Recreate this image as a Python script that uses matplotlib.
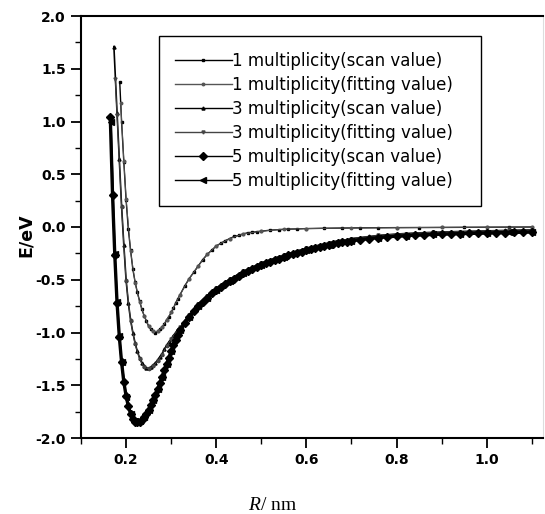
import matplotlib
matplotlib.use("Agg")
import matplotlib.pyplot as plt
from matplotlib.ticker import MultipleLocator, FormatStrFormatter

plt.rcParams['font.family'] = ['DejaVu Sans']
plt.rcParams['axes.unicode_minus'] = False
plt.rcParams['mathtext.fontset'] = 'custom'
plt.rcParams['mathtext.it'] = 'Liberation Serif:italic'
plt.rcParams['mathtext.rm'] = 'Liberation Serif'

# ---- data (R in nm, E in eV) ----
# multiplicity 1, scan
r1 = [0.186, 0.190, 0.195, 0.200, 0.205, 0.210, 0.215, 0.220, 0.225, 0.230,
      0.235, 0.240, 0.245, 0.250, 0.255, 0.260, 0.265, 0.270, 0.275, 0.280,
      0.285, 0.290, 0.295, 0.300, 0.305, 0.310, 0.315, 0.320,
      0.33, 0.34, 0.35, 0.36, 0.37, 0.38, 0.39, 0.40, 0.41, 0.42, 0.43, 0.44,
      0.45, 0.46, 0.47, 0.48, 0.49, 0.50,
      0.52, 0.54, 0.56, 0.58, 0.60,
      0.64, 0.68, 0.72, 0.76, 0.80,
      0.85, 0.90, 0.95, 1.00, 1.05, 1.10]
e1 = [1.37, 1.00, 0.62, 0.26, -0.02, -0.22, -0.40, -0.52, -0.62, -0.70,
      -0.78, -0.84, -0.89, -0.94, -0.97, -0.99, -1.00, -0.99, -0.97, -0.95,
      -0.92, -0.88, -0.85, -0.81, -0.77, -0.72, -0.68, -0.64,
      -0.56, -0.49, -0.43, -0.37, -0.31, -0.26, -0.22, -0.18, -0.155, -0.13, -0.11, -0.09,
      -0.08, -0.065, -0.055, -0.05, -0.045, -0.04,
      -0.03, -0.025, -0.02, -0.018, -0.015,
      -0.012, -0.01, -0.008, -0.007, -0.006,
      -0.005, -0.004, -0.003, -0.002, -0.001, 0.0]

# multiplicity 1, fitting
r1f = [0.188, 0.195, 0.20, 0.21, 0.22, 0.23, 0.24, 0.25, 0.26, 0.27, 0.28,
       0.29, 0.30, 0.32, 0.34, 0.36, 0.38, 0.40, 0.43, 0.46, 0.50, 0.55,
       0.60, 0.70, 0.80, 0.90, 1.00, 1.10]
e1f = [1.18, 0.63, 0.27, -0.23, -0.53, -0.71, -0.84, -0.94, -0.99, -0.99, -0.95,
       -0.88, -0.81, -0.64, -0.49, -0.37, -0.26, -0.18, -0.11, -0.065, -0.04, -0.02,
       -0.015, -0.009, -0.006, -0.004, -0.002, 0.0]

# multiplicity 3, scan
r3 = [0.173, 0.180, 0.185, 0.190, 0.195, 0.200, 0.205, 0.210, 0.215, 0.220,
      0.225, 0.230, 0.235, 0.240, 0.245, 0.250, 0.255, 0.260, 0.265, 0.270,
      0.275, 0.280, 0.285, 0.290, 0.295, 0.300, 0.305, 0.310, 0.315, 0.320,
      0.33, 0.34, 0.35, 0.36, 0.37, 0.38, 0.39, 0.40, 0.41, 0.42,
      0.43, 0.44, 0.45, 0.46, 0.47, 0.48, 0.49, 0.50, 0.51, 0.52,
      0.53, 0.54, 0.55, 0.56, 0.57, 0.58, 0.59, 0.60, 0.61, 0.62,
      0.63, 0.64, 0.65, 0.66, 0.67, 0.68, 0.69, 0.70,
      0.72, 0.74, 0.76, 0.78, 0.80, 0.82, 0.84, 0.86, 0.88, 0.90,
      0.92, 0.94, 0.96, 0.98, 1.00, 1.02, 1.04, 1.06, 1.08, 1.10]
e3 = [1.71, 1.08, 0.64, 0.20, -0.17, -0.50, -0.72, -0.88, -1.00, -1.10,
      -1.18, -1.24, -1.29, -1.32, -1.34, -1.34, -1.33, -1.31, -1.29, -1.26,
      -1.23, -1.20, -1.16, -1.12, -1.09, -1.06, -1.03, -1.00, -0.97, -0.95,
      -0.89, -0.83, -0.78, -0.73, -0.69, -0.65, -0.61, -0.58, -0.55, -0.52,
      -0.495, -0.47, -0.445, -0.42, -0.40, -0.38, -0.36, -0.34, -0.325, -0.31,
      -0.295, -0.28, -0.265, -0.25, -0.24, -0.225, -0.215, -0.20, -0.19, -0.18,
      -0.17, -0.16, -0.15, -0.14, -0.13, -0.125, -0.12, -0.11,
      -0.10, -0.09, -0.08, -0.073, -0.067, -0.062, -0.058, -0.054, -0.051, -0.048,
      -0.045, -0.043, -0.041, -0.039, -0.037, -0.035, -0.033, -0.031, -0.029, -0.027]

# multiplicity 3, fitting
r3f = [0.176, 0.18, 0.19, 0.20, 0.21, 0.22, 0.23, 0.24, 0.25, 0.26, 0.27,
       0.28, 0.29, 0.30, 0.32, 0.34, 0.36, 0.38, 0.40, 0.43, 0.46, 0.50,
       0.55, 0.60, 0.65, 0.70, 0.76, 0.82, 0.88, 0.94, 1.00, 1.05, 1.10]
e3f = [1.40, 1.06, 0.19, -0.51, -0.89, -1.11, -1.25, -1.33, -1.345, -1.32, -1.27,
       -1.21, -1.13, -1.06, -0.95, -0.83, -0.73, -0.65, -0.58, -0.495, -0.42, -0.34,
       -0.265, -0.20, -0.15, -0.11, -0.08, -0.062, -0.051, -0.043, -0.037, -0.032, -0.027]

# multiplicity 5, scan
r5 = [0.165, 0.170, 0.175, 0.180, 0.185, 0.190, 0.195, 0.200, 0.205, 0.210,
      0.215, 0.220, 0.225, 0.230, 0.235, 0.240, 0.245, 0.250, 0.255, 0.260,
      0.265, 0.270, 0.275, 0.280, 0.285, 0.290, 0.295, 0.300, 0.305, 0.310,
      0.315, 0.320,
      0.33, 0.34, 0.35, 0.36, 0.37, 0.38, 0.39, 0.40, 0.41, 0.42,
      0.43, 0.44, 0.45, 0.46, 0.47, 0.48, 0.49, 0.50, 0.51, 0.52,
      0.53, 0.54, 0.55, 0.56, 0.57, 0.58, 0.59, 0.60, 0.61, 0.62,
      0.63, 0.64, 0.65, 0.66, 0.67, 0.68, 0.69, 0.70,
      0.72, 0.74, 0.76, 0.78, 0.80, 0.82, 0.84, 0.86, 0.88, 0.90,
      0.92, 0.94, 0.96, 0.98, 1.00, 1.02, 1.04, 1.06, 1.08, 1.10]
e5 = [1.04, 0.30, -0.27, -0.72, -1.04, -1.28, -1.47, -1.60, -1.70, -1.77,
      -1.82, -1.845, -1.85, -1.845, -1.83, -1.80, -1.77, -1.73, -1.69, -1.64,
      -1.59, -1.54, -1.48, -1.42, -1.36, -1.30, -1.24, -1.18, -1.12, -1.07,
      -1.02, -0.98,
      -0.91, -0.85, -0.80, -0.75, -0.71, -0.67, -0.63, -0.60, -0.57, -0.54,
      -0.515, -0.49, -0.465, -0.44, -0.42, -0.40, -0.38, -0.36, -0.345, -0.33,
      -0.315, -0.30, -0.285, -0.27, -0.26, -0.245, -0.235, -0.22, -0.21, -0.20,
      -0.19, -0.18, -0.17, -0.16, -0.15, -0.145, -0.14, -0.13,
      -0.12, -0.11, -0.10, -0.093, -0.087, -0.082, -0.078, -0.074, -0.071, -0.068,
      -0.065, -0.063, -0.061, -0.059, -0.057, -0.055, -0.053, -0.051, -0.049, -0.047]

# multiplicity 5, fitting
r5f = [0.166, 0.175, 0.18, 0.185, 0.19, 0.20, 0.21, 0.22, 0.23, 0.24, 0.25,
       0.26, 0.27, 0.28, 0.29, 0.30, 0.32, 0.34, 0.36, 0.38, 0.40, 0.43,
       0.46, 0.50, 0.55, 0.60, 0.65, 0.70, 0.76, 0.82, 0.88, 0.94, 1.00,
       1.05, 1.10]
e5f = [1.00, -0.26, -0.71, -1.03, -1.28, -1.61, -1.77, -1.84, -1.84, -1.80, -1.73,
       -1.64, -1.54, -1.42, -1.30, -1.18, -0.98, -0.85, -0.75, -0.67, -0.60, -0.515,
       -0.44, -0.36, -0.285, -0.22, -0.17, -0.13, -0.10, -0.082, -0.071, -0.063, -0.057,
       -0.052, -0.047]

labels = ["1 multiplicity(scan value)", "1 multiplicity(fitting value)",
          "3 multiplicity(scan value)", "3 multiplicity(fitting value)",
          "5 multiplicity(scan value)", "5 multiplicity(fitting value)"]

fig = plt.figure(figsize=(5.45, 5.14), dpi=100)
ax = fig.add_axes([81 / 545, 1 - 438 / 514, (543 - 81) / 545, (438 - 16) / 514])

ax.plot(r1, e1, color='k', lw=1.0, marker='s', ms=1.6, label=labels[0])
ax.plot(r1f, e1f, color='#555555', lw=0.7, marker='o', ms=1.8, label=labels[1])
ax.plot(r3, e3, color='k', lw=1.2, marker='^', ms=2.2, label=labels[2])
ax.plot(r3f, e3f, color='#444444', lw=0.7, marker='v', ms=2.2, label=labels[3])
ax.plot(r5, e5, color='k', lw=2.4, marker='D', ms=4.0, label=labels[4])
ax.plot(r5f, e5f, color='k', lw=1.4, marker='<', ms=4.0, label=labels[5])

ax.set_xlim(0.1, 1.125)
ax.set_ylim(-2.0, 2.0)
ax.set_xticks([0.2, 0.4, 0.6, 0.8, 1.0])
ax.xaxis.set_minor_locator(MultipleLocator(0.1))
ax.yaxis.set_major_locator(MultipleLocator(0.5))
ax.yaxis.set_minor_locator(MultipleLocator(0.25))
ax.xaxis.set_major_formatter(FormatStrFormatter('%.1f'))
ax.yaxis.set_major_formatter(FormatStrFormatter('%.1f'))

ax.tick_params(which='major', direction='out', length=7, width=1.3,
               labelsize=10, pad=4, top=False, right=False)
ax.tick_params(which='minor', direction='out', length=4, width=1.0,
               top=False, right=False)
for lab in ax.get_xticklabels() + ax.get_yticklabels():
    lab.set_fontweight('bold')

for side in ['left', 'bottom', 'top']:
    ax.spines[side].set_linewidth(1.5)
ax.spines['right'].set_color('#dddddd')
ax.spines['right'].set_linewidth(0.8)

leg = ax.legend(loc='upper left', bbox_to_anchor=(0.169, 0.953, 0.697, 0.0),
                mode='expand', fontsize=12, frameon=True, fancybox=False,
                framealpha=1, edgecolor='k', handlelength=3.4,
                handletextpad=0.05, labelspacing=0.36, borderpad=0.95,
                borderaxespad=0)
leg.get_frame().set_linewidth(1.0)
for h in leg.get_lines():
    h.set_linewidth(1.0)

fig.text(26 / 545, 1 - 235 / 514, "E/eV", rotation=90, ha='center', va='center',
         fontsize=12.5, fontweight='bold')
fig.text(272 / 545, 1 - 505 / 514, r"$R$/ nm", ha='center', va='center',
         fontsize=14, family='Liberation Serif')

fig.savefig("out.png", dpi=100)
